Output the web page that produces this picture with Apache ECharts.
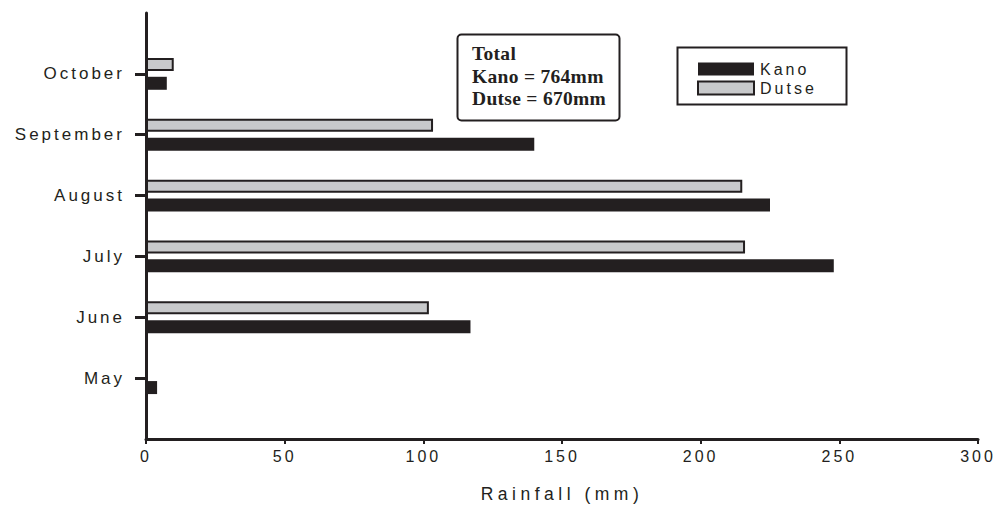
<!DOCTYPE html>
<html>
<head>
<meta charset="utf-8">
<script src="https://cdn.jsdelivr.net/npm/echarts@6/dist/echarts.min.js"></script>
<style>
html,body{margin:0;padding:0;background:#fff;}
#main{width:999px;height:511px;}
#main text{letter-spacing:3px;}
#main text[style*="17.5px"]{letter-spacing:4.5px;}
#main text[style*="Serif"]{letter-spacing:0.3px;}
</style>
</head>
<body>
<div id="main"></div>
<script>
const months = ['May', 'June', 'July', 'August', 'September', 'October'];
const kano = [4, 117, 248, 225, 140, 7.5];
const dutse = [0, 102, 216, 215, 103.5, 10];
const xTicks = [0, 50, 100, 150, 200, 250, 300];
const annotation = ['Total', 'Kano = 764mm', 'Dutse = 670mm'];

const ink = '#231f20';
const grey = '#c8c9cb';
const cats = [''].concat(months, ['']);
const pad = arr => [null].concat(arr.map(v => (v === 0 ? null : v)), [null]);

const chart = echarts.init(document.getElementById('main'), null, {renderer: 'svg'});
chart.setOption({
  animation: false,
  backgroundColor: '#fff',
  textStyle: {fontFamily: 'Liberation Sans', color: ink},
  grid: {left: 146, right: 21, top: 13, bottom: 72, containLabel: false},
  xAxis: {
    type: 'value', min: xTicks[0], max: xTicks[xTicks.length - 1], interval: 50,
    name: 'Rainfall (mm)', nameLocation: 'middle', nameGap: 46,
    nameTextStyle: {fontSize: 17.5, color: ink, fontFamily: 'Liberation Sans'},
    axisLine: {show: true, lineStyle: {color: ink, width: 3}},
    axisTick: {show: true, length: 5, lineStyle: {color: ink, width: 2}},
    axisLabel: {fontSize: 16, color: ink, margin: 9},
    splitLine: {show: false}
  },
  yAxis: {
    type: 'category', data: cats, boundaryGap: false,
    axisLine: {show: true, lineStyle: {color: ink, width: 3}},
    axisTick: {show: true, length: 11, lineStyle: {color: ink, width: 3},
      interval: (i, v) => v !== ''},
    axisLabel: {fontSize: 17, color: ink, margin: 21, interval: 0},
    splitLine: {show: false}
  },
  legend: {
    orient: 'vertical', left: 692, top: 56,
    data: ['Kano', 'Dutse'], icon: 'rect',
    itemWidth: 56, itemHeight: 13, itemGap: 3,
    textStyle: {fontSize: 16, color: ink, padding: [0, 0, 0, 1]}
  },
  series: [
    {name: 'Dutse', type: 'bar', data: pad(dutse), barWidth: 13, barGap: '45%',
     itemStyle: {color: grey, borderColor: ink, borderWidth: 2}},
    {name: 'Kano', type: 'bar', data: pad(kano), barWidth: 13, barGap: '45%',
     itemStyle: {color: ink}}
  ],
  graphic: [
    {type: 'rect', left: 675, top: 45, shape: {width: 169, height: 57},
     style: {fill: 'none', stroke: ink, lineWidth: 2}},
    {type: 'rect', left: 455, top: 32, shape: {width: 162, height: 86, r: 4},
     style: {fill: 'none', stroke: ink, lineWidth: 2}},
    ...annotation.map((t, i) => ({
      type: 'text', x: 472, y: 53.6 + i * 22.5,
      style: {text: t, font: 'bold 19.5px "Liberation Serif"', fill: ink,
        textVerticalAlign: 'middle', verticalAlign: 'middle'}
    }))
  ]
});
</script>
</body>
</html>
